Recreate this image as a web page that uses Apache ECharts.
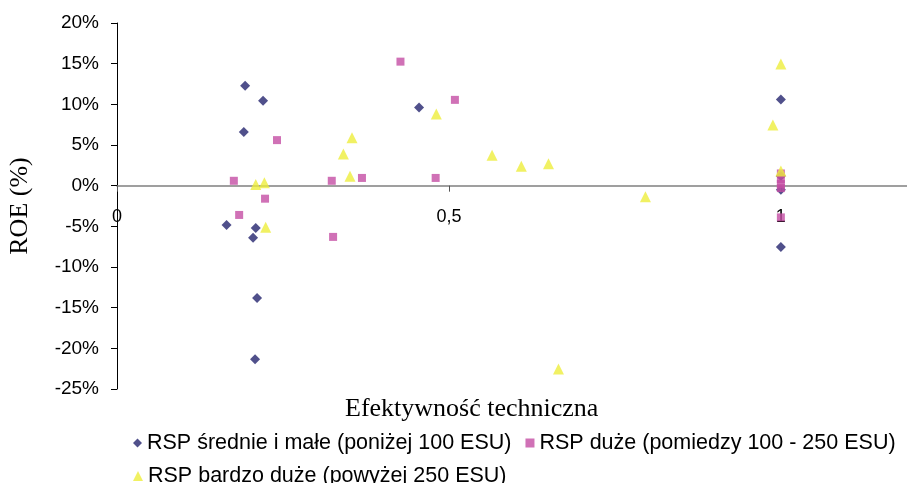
<!DOCTYPE html>
<html><head><meta charset="utf-8">
<script src="https://cdn.jsdelivr.net/npm/echarts@6/dist/echarts.min.js"></script>
<style>html,body{margin:0;padding:0;background:#fff}#c{width:907px;height:483px}</style>
</head><body><div id="c"></div>
<script>
// Efektywność techniczna (x) vs ROE % (y)
const smallX = [0.193, 0.220, 0.191, 0.165, 0.209, 0.205, 0.211, 0.208, 0.455, 1.0, 1.0, 1.0, 1.0];
const smallY = [12.3, 10.45, 6.6, -4.85, -5.2, -6.4, -13.8, -21.35, 9.6, 10.6, -7.55, 1.2, -0.5];
const largeX = [0.176, 0.241, 0.223, 0.184, 0.427, 0.509, 0.3235, 0.369, 0.480, 0.3255, 1.0, 1.0, 1.0, 1.0, 1.0];
const largeY = [0.6, 5.6, -1.6, -3.6, 15.25, 10.55, 0.6, 0.95, 0.95, -6.3, 1.5, 0.8, 0.2, -0.3, -3.9];
const veryX = [0.209, 0.222, 0.224, 0.481, 0.354, 0.341, 0.351, 0.565, 0.609, 0.650, 0.665, 1.0, 0.988, 1.0, 0.796];
const veryY = [0.15, 0.35, -5.1, 8.8, 5.9, 3.9, 1.15, 3.75, 2.4, 2.7, -22.55, 14.95, 7.45, 1.8, -1.35];
const seriesNames = ['RSP średnie i małe (poniżej 100 ESU)', 'RSP duże (pomiedzy 100 - 250 ESU)', 'RSP bardzo duże (powyżej 250 ESU)'];
const xTitle = 'Efektywność techniczna';
const yTitle = 'ROE (%)';
const yMin = -25, yMax = 20;

const zip = (xs, ys) => xs.map((x, i) => [x, ys[i]]);
const colors = ['#24246E', '#C44EA4', '#EDED3C'];
const gridTop = 23, gridBottom = 94, H = 483;
const plotH = H - gridTop - gridBottom;
const zeroOffset = -plotH * (0 - yMin) / (yMax - yMin);
const chart = echarts.init(document.getElementById('c'), null, {renderer: 'canvas'});
const sans = 'Liberation Sans, Arial, sans-serif';
const serif = 'Liberation Serif, Times New Roman, serif';
chart.setOption({
  animation: false,
  title: {text: xTitle, left: 340, top: 391, textStyle: {fontFamily: serif, fontSize: 26, fontWeight: 'normal', color: '#000'}},
  grid: {left: 117, top: gridTop, right: 0, bottom: gridBottom, outerBoundsMode: 'none', containLabel: false},
  legend: [
    {data: [seriesNames[0], seriesNames[1]], left: 128, top: 427, itemWidth: 9, itemHeight: 9, itemGap: 14,
     textStyle: {fontFamily: sans, fontSize: 21.5, color: '#000'}},
    {data: [seriesNames[2]], left: 128, top: 460, itemWidth: 10, itemHeight: 10, itemGap: 14,
     textStyle: {fontFamily: sans, fontSize: 21.5, color: '#000'}}
  ],
  xAxis: {
    type: 'value', min: 0, max: 1.19, interval: 0.5, position: 'bottom', offset: zeroOffset,
    axisLine: {onZero: false, lineStyle: {color: '#808080', width: 1.5}},
    axisTick: {show: true, length: 6, lineStyle: {color: '#555'}},
    axisLabel: {margin: 22, fontFamily: sans, fontSize: 18, color: '#000', showMaxLabel: false,
      formatter: v => String(v).replace('.', ',')},
    splitLine: {show: false}
  },
  yAxis: {
    type: 'value', min: yMin, max: yMax, interval: 5,
    name: yTitle, nameLocation: 'middle', nameGap: 84, nameRotate: 90,
    nameTextStyle: {fontFamily: serif, fontSize: 26, color: '#000'},
    axisLine: {show: true, onZero: false, lineStyle: {color: '#000', width: 1}},
    axisTick: {show: true, length: 6, lineStyle: {color: '#000'}},
    axisLabel: {margin: 18, fontFamily: sans, fontSize: 19, color: '#000', formatter: '{value}%'},
    splitLine: {show: false}
  },
  series: [
    {name: seriesNames[0], type: 'scatter', symbol: 'diamond', symbolSize: 10, itemStyle: {color: colors[0]}, data: zip(smallX, smallY)},
    {name: seriesNames[1], type: 'scatter', symbol: 'rect', symbolSize: 8, itemStyle: {color: colors[1]}, data: zip(largeX, largeY)},
    {name: seriesNames[2], type: 'scatter', symbol: 'triangle', symbolSize: 11, itemStyle: {color: colors[2]}, data: zip(veryX, veryY)}
  ]
});
</script></body></html>
